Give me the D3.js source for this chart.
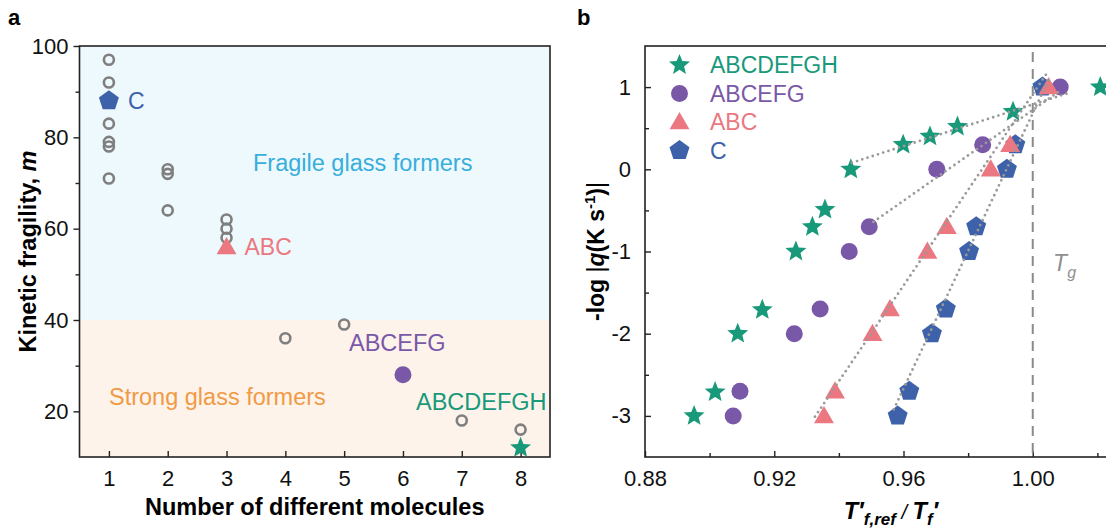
<!DOCTYPE html>
<html>
<head>
<meta charset="utf-8">
<script src="https://cdn.jsdelivr.net/npm/d3@7"></script>
<style>
  html, body { margin: 0; padding: 0; background: #fff; }
  svg { display: block; font-family: "Liberation Sans", Arial, sans-serif; }
  .axis path { display: none; }
  .axis line { stroke: #222; stroke-width: 1.4; }
  .axis text { font-size: 22px; fill: #111; font-family: "Liberation Sans", Arial, sans-serif; }
</style>
</head>
<body>
<svg id="chart" width="1106" height="531"></svg>
<script>
// ---------- Panel a: kinetic fragility vs. number of molecules ----------
const moleculeTicks = [1, 2, 3, 4, 5, 6, 7, 8];
const fragilityTicks = [20, 40, 60, 80, 100];
const fragilityMinorTicks = [30, 50, 70, 90];
const otherCount = [1, 1, 1, 1, 1, 1, 2, 2, 2, 3, 3, 3, 4, 5, 7, 8];
const otherFragility = [97, 92, 83, 79, 78, 71, 73, 72, 64, 62, 60, 58, 36, 39, 18, 16];
const fragileStrongBoundary = 40;

const seriesNames = ["ABCDEFGH", "ABCEFG", "ABC", "C"];
const seriesColors = ["#17997a", "#7a58a8", "#eb7880", "#3d62aa"];
const seriesShapes = ["star", "circle", "triangle", "pentagon"];
const seriesCount = [8, 6, 3, 1];
const seriesFragility = [12, 28, 56, 88];

// ---------- Panel b: cooling-rate vs. reduced fictive temperature ----------
const ratioTicks = [0.88, 0.92, 0.96, 1.00];
const ratioMinorTicks = [0.90, 0.94, 0.98, 1.02];
const rateTicks = [1, 0, -1, -2, -3];
const rateMinorTicks = [0.5, -0.5, -1.5, -2.5];
const rateLevels = [1, 0.3, 0, -0.7, -1, -1.7, -2, -2.7, -3];
const ratioABCDEFGH = [1.0209, 0.9939, 0.9767, 0.9682, 0.9599, 0.9437, 0.9357, 0.9318, 0.9267, 0.9163, 0.9087, 0.9017, 0.8952];
const rateABCDEFGH  = [1.0, 0.70, 0.52, 0.40, 0.30, 0.0, -0.49, -0.70, -1.0, -1.71, -2.0, -2.71, -3.0];
const ratioABCEFG   = [1.0085, 0.9845, 0.9703, 0.9494, 0.9432, 0.9342, 0.9262, 0.9094, 0.9073];
const ratioABC      = [1.0049, 0.9930, 0.9870, 0.9734, 0.9674, 0.9558, 0.9504, 0.9388, 0.9354];
const ratioC        = [1.0030, 0.9946, 0.9920, 0.9825, 0.9803, 0.9731, 0.9688, 0.9618, 0.9582];
// dotted linear fits: [start ratio, start rate, end ratio, end rate]
const fitABCDEFGH = [0.944, 0.08, 1.012, 0.94];
const fitABCEFG   = [0.9507, -0.64, 1.009, 0.97];
const fitABC      = [0.9326, -3.01, 1.0044, 1.17];
const fitC        = [0.9570, -2.92, 1.0050, 1.10];
const glassTransition = 1.00;

const svg = d3.select("#chart");

// marker path builders (centred on 0,0)
function polygon(n, r, rot) {
  const pts = d3.range(n).map(i => {
    const a = rot + i * 2 * Math.PI / n;
    return [r * Math.sin(a), -r * Math.cos(a)];
  });
  return "M" + pts.map(p => p.join(",")).join("L") + "Z";
}
function starPath(r) {
  const inner = r * 0.44;
  const pts = d3.range(10).map(i => {
    const rr = i % 2 === 0 ? r : inner;
    const a = i * Math.PI / 5;
    return [rr * Math.sin(a), -rr * Math.cos(a)];
  });
  return "M" + pts.map(p => p.join(",")).join("L") + "Z";
}
function drawMarker(g, shape, cx, cy, color) {
  if (shape === "circle") {
    g.append("circle").attr("cx", cx).attr("cy", cy).attr("r", 8.5).attr("fill", color);
    return;
  }
  let d;
  if (shape === "star") d = starPath(11);
  else if (shape === "triangle") d = polygon(3, 11.5, 0);
  else d = polygon(5, 10.5, 0);
  const dy = shape === "triangle" ? 1.5 : 0;
  g.append("path").attr("d", d).attr("transform", `translate(${cx},${cy + dy})`).attr("fill", color);
}

// ================= Panel a =================
const xA = d3.scaleLinear().domain([0.5, 8.5]).range([79.5, 550]);
const yA = d3.scaleLinear().domain([10, 100]).range([457, 46]);
const gA = svg.append("g");

gA.append("rect")
  .attr("x", xA(0.5)).attr("y", yA(100))
  .attr("width", xA(8.5) - xA(0.5)).attr("height", yA(fragileStrongBoundary) - yA(100))
  .attr("fill", "#eef9fd");
gA.append("rect")
  .attr("x", xA(0.5)).attr("y", yA(fragileStrongBoundary))
  .attr("width", xA(8.5) - xA(0.5)).attr("height", yA(10) - yA(fragileStrongBoundary))
  .attr("fill", "#fdf3ea");

gA.append("text").attr("x", 253).attr("y", yA(72.6))
  .attr("font-size", 23.5).attr("fill", "#37aedb").text("Fragile glass formers");
gA.append("text").attr("x", 109).attr("y", yA(21.3))
  .attr("font-size", 23.5).attr("fill", "#f09a45").text("Strong glass formers");

// axes
gA.append("g").attr("class", "axis").attr("transform", `translate(0,${yA(10)})`)
  .call(d3.axisBottom(xA).tickValues(moleculeTicks).tickSize(-6).tickPadding(13).tickFormat(d3.format("d")));
gA.append("g").attr("class", "axis").attr("transform", `translate(${xA(0.5)},0)`)
  .call(d3.axisLeft(yA).tickValues(fragilityTicks).tickSize(6).tickPadding(5).tickFormat(d3.format("d")));
gA.append("g").attr("class", "axis").attr("transform", `translate(${xA(0.5)},0)`)
  .call(d3.axisLeft(yA).tickValues(fragilityMinorTicks).tickSize(4).tickFormat(""));

gA.append("rect")
  .attr("x", xA(0.5)).attr("y", yA(100))
  .attr("width", xA(8.5) - xA(0.5)).attr("height", yA(10) - yA(100))
  .attr("fill", "none").attr("stroke", "#222").attr("stroke-width", 1.6);

// open grey markers for the other compositions
gA.selectAll("circle.other").data(otherCount.map((c, i) => [c, otherFragility[i]]))
  .enter().append("circle").attr("class", "other")
  .attr("cx", d => xA(d[0])).attr("cy", d => yA(d[1])).attr("r", 5)
  .attr("fill", "none").attr("stroke", "#7f7f7f").attr("stroke-width", 2.6);

// highlighted compositions
seriesNames.forEach((n, i) => {
  drawMarker(gA, seriesShapes[i], xA(seriesCount[i]), yA(seriesFragility[i]), seriesColors[i]);
});
gA.append("text").attr("x", xA(1) + 19).attr("y", yA(88) + 8).attr("font-size", 23)
  .attr("fill", seriesColors[3]).text("C");
gA.append("text").attr("x", xA(3) + 18).attr("y", yA(56) + 8).attr("font-size", 23)
  .attr("fill", seriesColors[2]).text("ABC");
gA.append("text").attr("x", 349).attr("y", yA(33.2)).attr("font-size", 23.5)
  .attr("fill", seriesColors[1]).text("ABCEFG");
gA.append("text").attr("x", 416).attr("y", yA(20.2)).attr("font-size", 23.5)
  .attr("fill", seriesColors[0]).text("ABCDEFGH");

// titles
gA.append("text").attr("x", (xA(0.5) + xA(8.5)) / 2).attr("y", 515)
  .attr("text-anchor", "middle").attr("font-size", 23.5).attr("font-weight", "bold")
  .text("Number of different molecules");
const yTitleA = gA.append("text").attr("transform", `translate(36,${(yA(10) + yA(100)) / 2}) rotate(-90)`)
  .attr("text-anchor", "middle").attr("font-size", 23.5).attr("font-weight", "bold");
yTitleA.append("tspan").text("Kinetic fragility, ");
yTitleA.append("tspan").attr("font-style", "italic").text("m");
svg.append("text").attr("x", 8).attr("y", 25).attr("font-size", 22).attr("font-weight", "bold").text("a");

// ================= Panel b =================
const xB = d3.scaleLinear().domain([0.88, 1.04]).range([645, 1162]);
const yB = d3.scaleLinear().domain([-3.5, 1.5]).range([457, 46]);
const gB = svg.append("g");

gB.append("g").attr("class", "axis").attr("transform", `translate(0,${yB(-3.5)})`)
  .call(d3.axisBottom(xB).tickValues(ratioTicks).tickSize(-6).tickPadding(13).tickFormat(d3.format(".2f")));
gB.append("g").attr("class", "axis").attr("transform", `translate(0,${yB(-3.5)})`)
  .call(d3.axisBottom(xB).tickValues(ratioMinorTicks).tickSize(-4).tickFormat(""));
gB.append("g").attr("class", "axis").attr("transform", `translate(${xB(0.88)},0)`)
  .call(d3.axisLeft(yB).tickValues(rateTicks).tickSize(-6).tickPadding(14).tickFormat(d => String(d)));
gB.append("g").attr("class", "axis").attr("transform", `translate(${xB(0.88)},0)`)
  .call(d3.axisLeft(yB).tickValues(rateMinorTicks).tickSize(-4).tickFormat(""));

gB.append("rect")
  .attr("x", xB(0.88)).attr("y", yB(1.5))
  .attr("width", xB(1.04) - xB(0.88)).attr("height", yB(-3.5) - yB(1.5))
  .attr("fill", "none").attr("stroke", "#222").attr("stroke-width", 1.6);

// glass transition reference
gB.append("line")
  .attr("x1", xB(glassTransition)).attr("x2", xB(glassTransition))
  .attr("y1", yB(1.5) + 6).attr("y2", yB(-3.5) - 2)
  .attr("stroke", "#8a8a8a").attr("stroke-width", 2).attr("stroke-dasharray", "10,7");
const tg = gB.append("text").attr("x", xB(1.0063)).attr("y", yB(-1.24))
  .attr("font-size", 23).attr("font-style", "italic").attr("fill", "#8f8f8f");
tg.append("tspan").text("T");
tg.append("tspan").attr("font-size", 16).attr("dy", 7).text("g");

const ratioSeries = [ratioABCDEFGH, ratioABCEFG, ratioABC, ratioC];
const rateSeries = [rateABCDEFGH, rateLevels, rateLevels, rateLevels];
const fits = [fitABCDEFGH, fitABCEFG, fitABC, fitC];

// markers (drawing order keeps the triangles in front)
[0, 1, 3, 2].forEach(i => {
  ratioSeries[i].forEach((r, k) => {
    drawMarker(gB, seriesShapes[i], xB(r), yB(rateSeries[i][k]), seriesColors[i]);
  });
});

// dotted fits
gB.selectAll("line.fit").data(fits).enter().append("line").attr("class", "fit")
  .attr("x1", d => xB(d[0])).attr("y1", d => yB(d[1]))
  .attr("x2", d => xB(d[2])).attr("y2", d => yB(d[3]))
  .attr("stroke", "#9a9a9a").attr("stroke-width", 2.8)
  .attr("stroke-linecap", "round").attr("stroke-dasharray", "0,5.5");

// legend
const legend = gB.append("g");
seriesNames.forEach((n, i) => {
  const ly = 65 + i * 28.5;
  drawMarker(legend, seriesShapes[i], 679.5, ly, seriesColors[i]);
  legend.append("text").attr("x", 710).attr("y", ly + 8).attr("font-size", 23)
    .attr("fill", seriesColors[i]).text(n);
});

// titles
const xTitleB = gB.append("text").attr("x", 891).attr("y", 519)
  .attr("text-anchor", "middle").attr("font-size", 23.5).attr("font-weight", "bold").attr("font-style", "italic");
xTitleB.append("tspan").text("T′");
xTitleB.append("tspan").attr("font-size", 17).attr("dy", 6).text("f,ref");
xTitleB.append("tspan").attr("font-size", 20).attr("font-weight", "normal").attr("dy", -6).text(" / ");
xTitleB.append("tspan").text("T");
xTitleB.append("tspan").attr("font-size", 17).attr("dy", 6).text("f");
xTitleB.append("tspan").attr("dy", -6).text("′");

const yTitleB = gB.append("text").attr("transform", `translate(604,${(yB(-3.5) + yB(1.5)) / 2}) rotate(-90)`)
  .attr("text-anchor", "middle").attr("font-size", 23).attr("font-weight", "bold");
yTitleB.append("tspan").text("-log ");
yTitleB.append("tspan").attr("font-weight", "normal").text("|");
yTitleB.append("tspan").attr("font-style", "italic").text("q");
yTitleB.append("tspan").text("(K s");
yTitleB.append("tspan").attr("font-size", 15).attr("dy", -9).text("-1");
yTitleB.append("tspan").attr("dy", 9).text(")");
yTitleB.append("tspan").attr("font-weight", "normal").text("|");
svg.append("text").attr("x", 577).attr("y", 25).attr("font-size", 22).attr("font-weight", "bold").text("b");
</script>
</body>
</html>
